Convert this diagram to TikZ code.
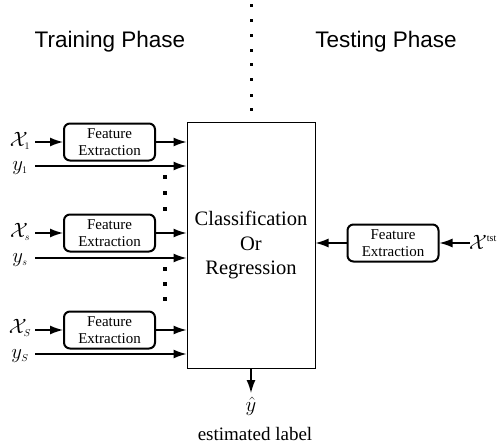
\documentclass[tikz,border=0pt]{standalone}
\usepackage{fontspec}
\setmainfont{Liberation Serif}
\newfontfamily\headfont{Liberation Sans}
\usetikzlibrary{arrows.meta}
\begin{document}
\begin{tikzpicture}[x=1pt,y=-1pt,
  fe/.style={draw, line width=2pt, rounded corners=6pt, minimum width=91pt, minimum height=37pt, inner sep=0pt, align=center, font=\fontsize{15}{17.5}\selectfont},
  big/.style={draw, line width=1pt, minimum width=128pt, minimum height=246pt, inner sep=0pt, align=center, font=\fontsize{20.5}{24.5}\selectfont},
  arr/.style={line width=1.4pt, -{Latex[length=13pt,width=9pt]}},
  head/.style={font=\headfont\fontsize{22.5}{26}\selectfont},
  lab/.style={font=\fontsize{20}{24}\selectfont, inner sep=0pt},
  dot/.style={fill=black, minimum size=3pt, inner sep=0pt, draw=none, rectangle}
]
\useasboundingbox (0,0) rectangle (498,444);
\node[head] (train) at (110,42) {Training Phase};
\node[head] (test) at (386,42) {Testing Phase};
\foreach \yy [count=\i] in {6,21,36,51,65,80,95,109} {
  \node[dot, minimum size=3pt] (vd\i) at (251,\yy) {};
}
\node[big] (cls) at (251,245) {Classification\\Or\\Regression};
\node[fe] (fe1) at (109.5,142) {Feature\\Extraction};
\node[fe] (fe2) at (109.5,233) {Feature\\Extraction};
\node[fe] (fe3) at (109.5,330) {Feature\\Extraction};
\node[fe] (fe4) at (393,243) {Feature\\Extraction};
\node[lab] (x1) at (20,141) {$\mathcal{X}_{\scriptscriptstyle 1}$};
\node[lab] (y1) at (20,168) {$y_{\scriptscriptstyle 1}$};
\node[lab] (xs) at (20,232) {$\mathcal{X}_{\scriptscriptstyle s}$};
\node[lab] (ys) at (20,260) {$y_{\scriptscriptstyle s}$};
\node[lab] (xS) at (20,328) {$\mathcal{X}_{\scriptscriptstyle S}$};
\node[lab] (yS) at (20,356) {$y_{\scriptscriptstyle S}$};
\node[lab] (xt) at (483,242) {$\mathcal{X}^{\scriptscriptstyle\mathrm{tst}}$};
\coordinate (c1) at (35,142);
\coordinate (d1) at (35,166);
\coordinate (c2) at (35,233);
\coordinate (d2) at (35,258);
\coordinate (c3) at (35,330);
\coordinate (d3) at (35,354);
\coordinate (ct) at (470,243);
\coordinate (yend) at (251,393);
\draw[arr] (c1) -- (fe1.west);
\draw[arr] (c2) -- (fe2.west);
\draw[arr] (c3) -- (fe3.west);
\draw[arr] (fe1.east) -- (cls.west |- fe1.east);
\draw[arr] (fe2.east) -- (cls.west |- fe2.east);
\draw[arr] (fe3.east) -- (cls.west |- fe3.east);
\draw[arr] (d1) -- (cls.west |- d1);
\draw[arr] (d2) -- (cls.west |- d2);
\draw[arr] (d3) -- (cls.west |- d3);
\draw[arr] (ct) -- (fe4.east);
\draw[arr] (fe4.west) -- (cls.east |- fe4.west);
\foreach \yy [count=\i] in {177,193,209,269,284,299} {
  \node[dot, minimum size=3.5pt] (md\i) at (165,\yy) {};
}
\node[lab] (yhat) at (251,406) {$\hat{y}$};
\draw[arr] (cls.south) -- (yend);
\node[lab, font=\fontsize{19}{23}\selectfont] (est) at (255,434) {estimated label};
\end{tikzpicture}
\end{document}
